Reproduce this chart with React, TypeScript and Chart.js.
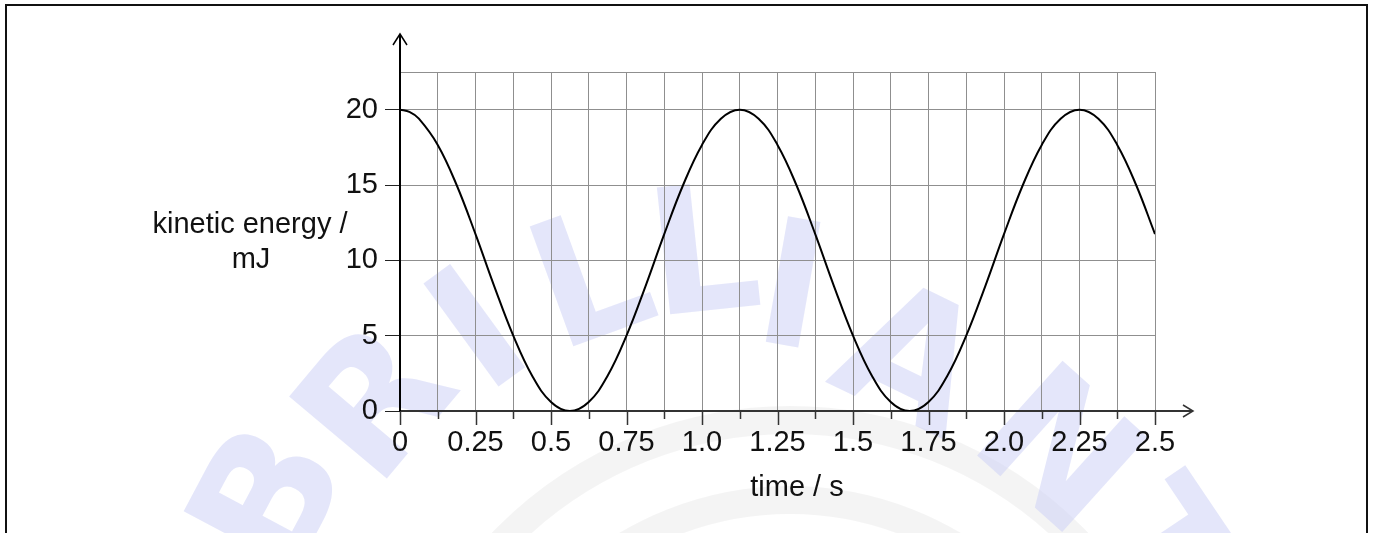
import React, { useEffect, useRef } from 'react';
import { Chart, registerables } from 'chart.js';

Chart.register(...registerables);

// time (s) sampled along the curve
const times = [
  0, 0.03125, 0.0625, 0.125, 0.1875, 0.25, 0.3125, 0.375, 0.4375, 0.5, 0.5625,
  0.625, 0.6875, 0.75, 0.8125, 0.875, 0.9375, 1.0, 1.0625, 1.125, 1.1875,
  1.25, 1.3125, 1.375, 1.4375, 1.5, 1.5625, 1.625, 1.6875, 1.75, 1.8125,
  1.875, 1.9375, 2.0, 2.0625, 2.125, 2.1875, 2.25, 2.3125, 2.375, 2.4375, 2.5,
];
// kinetic energy (mJ)
const kineticEnergy = [
  20, 19.85, 19.4, 17.66, 15, 11.74, 8.26, 5, 2.34, 0.6, 0,
  0.6, 2.34, 5, 8.26, 11.74, 15, 17.66, 19.4, 20, 19.4,
  17.66, 15, 11.74, 8.26, 5, 2.34, 0.6, 0, 0.6, 2.34,
  5, 8.26, 11.74, 15, 17.66, 19.4, 20, 19.4, 17.66, 15, 11.74,
];

const xTickLabels = ['0', '0.25', '0.5', '0.75', '1.0', '1.25', '1.5', '1.75', '2.0', '2.25', '2.5'];
const xGridValues = [
  0, 0.125, 0.25, 0.375, 0.5, 0.625, 0.75, 0.875, 1.0, 1.125, 1.25,
  1.375, 1.5, 1.625, 1.75, 1.875, 2.0, 2.125, 2.25, 2.375, 2.5,
];
const yTickValues = [0, 5, 10, 15, 20];
const yGridTop = 22.5;
const yTitleLines = ['kinetic energy /', 'mJ'];
const xTitle = 'time / s';
const watermarkLetters = ['B', 'R', 'I', 'L', 'L', 'I', 'A', 'N', 'T'];

const FONT = '"Liberation Sans", Arial, Helvetica, sans-serif';
const FONT_SIZE = 29;

// faint background watermark placement (decoration only)
const WM_POS: [number, number, number][] = [
  [280, 505, -62],
  [385, 410, -50],
  [485, 340, -36],
  [595, 290, -20],
  [705, 265, -6],
  [790, 300, 10],
  [905, 370, 26],
  [1050, 460, 42],
  [1150, 560, 56],
];

const decorPlugin = {
  id: 'decor',
  beforeDraw(chart: any) {
    const { ctx, width, height } = chart;
    ctx.save();
    ctx.fillStyle = '#ffffff';
    ctx.fillRect(0, 0, width, height);

    // grey rings
    ctx.strokeStyle = 'rgba(0,0,0,0.045)';
    ctx.lineWidth = 28;
    ctx.beginPath();
    ctx.arc(790, 820, 400, Math.PI, 2 * Math.PI);
    ctx.stroke();
    ctx.beginPath();
    ctx.arc(790, 820, 320, Math.PI, 2 * Math.PI);
    ctx.stroke();

    // lavender letters
    ctx.fillStyle = 'rgba(205,210,245,0.55)';
    ctx.font = `bold 175px "DejaVu Sans", ${FONT}`;
    ctx.textAlign = 'center';
    ctx.textBaseline = 'middle';
    watermarkLetters.forEach((ch, i) => {
      const [x, y, r] = WM_POS[i];
      ctx.save();
      ctx.translate(x, y);
      ctx.rotate((r * Math.PI) / 180);
      ctx.fillText(ch, 0, 0);
      ctx.restore();
    });
    ctx.restore();
  },
  afterDraw(chart: any) {
    const { ctx, chartArea } = chart;
    const xs = chart.scales.x;
    ctx.save();
    // outer frame
    ctx.strokeStyle = '#111';
    ctx.lineWidth = 2;
    ctx.strokeRect(6, 5, 1361, 700);

    // x tick marks below axis
    ctx.strokeStyle = '#333';
    ctx.lineWidth = 1.5;
    xs.ticks.forEach((t: any, i: number) => {
      const px = Math.round(xs.getPixelForValue(t.value)) + 0.5;
      const len = i % 2 === 0 ? 14 : 8;
      ctx.beginPath();
      ctx.moveTo(px, chartArea.bottom);
      ctx.lineTo(px, chartArea.bottom + len);
      ctx.stroke();
    });

    // y axis extension + arrow
    const ax = chartArea.left;
    ctx.strokeStyle = '#000';
    ctx.lineWidth = 2;
    ctx.beginPath();
    ctx.moveTo(ax, chartArea.top);
    ctx.lineTo(ax, 34);
    ctx.stroke();
    ctx.lineWidth = 1.5;
    ctx.beginPath();
    ctx.moveTo(ax - 7, 45);
    ctx.lineTo(ax, 34);
    ctx.lineTo(ax + 7, 45);
    ctx.stroke();

    // x axis extension + arrow
    const ay = chartArea.bottom;
    ctx.strokeStyle = '#333';
    ctx.lineWidth = 2;
    ctx.beginPath();
    ctx.moveTo(chartArea.right, ay);
    ctx.lineTo(1193, ay);
    ctx.stroke();
    ctx.lineWidth = 1.5;
    ctx.beginPath();
    ctx.moveTo(1183, ay - 6);
    ctx.lineTo(1193, ay);
    ctx.lineTo(1183, ay + 6);
    ctx.stroke();

    // titles
    ctx.fillStyle = '#111';
    ctx.font = `${FONT_SIZE}px ${FONT}`;
    ctx.textAlign = 'center';
    ctx.textBaseline = 'alphabetic';
    ctx.fillText(yTitleLines[0], 250, 233);
    ctx.fillText(yTitleLines[1], 251, 268);
    ctx.fillText(xTitle, 797, 496);
    ctx.restore();
  },
};

export default function App() {
  const canvasRef = useRef<HTMLCanvasElement>(null);

  useEffect(() => {
    const canvas = canvasRef.current;
    if (!canvas) return;
    const chart = new Chart(canvas, {
      type: 'line',
      data: {
        datasets: [
          {
            data: times.map((t, i) => ({ x: t, y: kineticEnergy[i] })),
            borderColor: '#000',
            borderWidth: 2,
            pointRadius: 0,
            tension: 0.4,
            fill: false,
          },
        ],
      },
      options: {
        animation: false,
        responsive: false,
        maintainAspectRatio: false,
        devicePixelRatio: 1,
        layout: { padding: { top: 72, right: 220, left: 0, bottom: 0 } },
        plugins: { legend: { display: false }, tooltip: { enabled: false }, title: { display: false } },
        scales: {
          x: {
            type: 'linear',
            min: 0,
            max: 2.5,
            afterBuildTicks: (scale: any) => {
              scale.ticks = xGridValues.map((v) => ({ value: v }));
            },
            afterFit: (scale: any) => {
              scale.height = 122;
            },
            ticks: {
              autoSkip: false,
              maxRotation: 0,
              minRotation: 0,
              padding: 15,
              color: '#111',
              font: { family: FONT, size: FONT_SIZE },
              callback: (_v: any, index: number) => (index % 2 === 0 ? xTickLabels[index / 2] : ''),
            },
            grid: {
              color: '#8f8f8f',
              lineWidth: 1,
              drawTicks: false,
            },
            border: { display: true, color: '#333', width: 2 },
          },
          y: {
            type: 'linear',
            min: 0,
            max: yGridTop,
            afterBuildTicks: (scale: any) => {
              scale.ticks = [...yTickValues, yGridTop].map((v) => ({ value: v }));
            },
            afterFit: (scale: any) => {
              scale.width = 400;
            },
            ticks: {
              padding: 7,
              color: '#111',
              font: { family: FONT, size: FONT_SIZE },
              callback: (v: any) => (yTickValues.includes(Number(v)) ? String(v) : ''),
            },
            grid: {
              color: '#8f8f8f',
              lineWidth: 1,
              drawTicks: true,
              tickLength: 15,
              tickColor: (c: any) => (c.tick && c.tick.value <= 20 ? '#222' : 'rgba(0,0,0,0)'),
            },
            border: { display: true, color: '#000', width: 2 },
          },
        },
      },
      plugins: [decorPlugin],
    });
    return () => chart.destroy();
  }, []);

  return (
    <div style={{ position: 'fixed', left: 0, top: 0, width: 1375, height: 533, background: '#fff' }}>
      <canvas ref={canvasRef} width={1375} height={533} style={{ display: 'block', width: 1375, height: 533 }} />
    </div>
  );
}
